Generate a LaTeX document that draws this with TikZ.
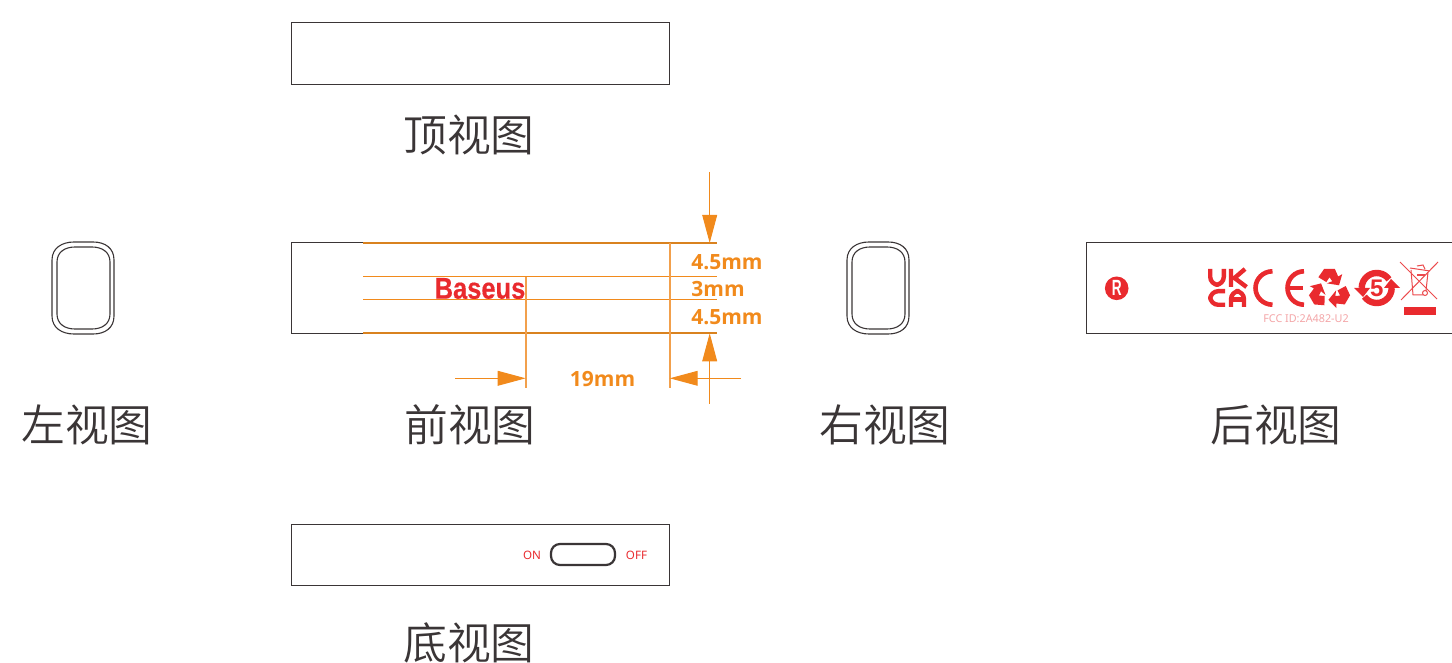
\documentclass[tikz,border=0pt]{standalone}
\usepackage{fontspec}
\usetikzlibrary{arrows.meta}
\newfontfamily\cjkfont{Noto Sans CJK SC DemiLight}
\newfontfamily\dimfont{Noto Sans}
\newfontfamily\dimboldfont{Open Sans}
\newfontfamily\logofont{Liberation Sans}
\definecolor{ink}{HTML}{3A3536}
\definecolor{dimc}{HTML}{F18A1C}
\definecolor{dimdark}{HTML}{D9821F}
\definecolor{dimlight}{HTML}{F2A04C}
\definecolor{brand}{HTML}{E92A2E}
\definecolor{fccpink}{HTML}{F4A6A8}
\tikzset{
  viewbox/.style={draw=ink,line width=0.45pt,fill=white},
  viewlabel/.style={font=\cjkfont\fontsize{21.9}{24}\selectfont,text=ink,inner sep=0pt},
  dimlabel/.style={font=\dimboldfont\bfseries\fontsize{10.5}{12}\selectfont,text=dimc,inner sep=0pt},
  redlabel/.style={font=\dimfont\fontsize{5.8}{6}\selectfont,text=brand,inner sep=0pt},
  dimline/.style={draw=dimc,line width=0.45pt},
  edgeline/.style={draw=dimdark,line width=0.75pt},
  thinline/.style={draw=dimlight,line width=0.9pt},
  dimarrow/.style={draw=dimc,line width=0.5pt,-{Triangle[length=14pt,width=7.4pt,fill=dimc]}},
  shell/.style={draw=ink,line width=0.55pt},
  iconline/.style={draw=brand!85,line width=0.5pt},
  ukca/.style={draw=brand,line width=2.2pt,line join=round},
  ce/.style={draw=brand,line width=2.3pt,line cap=butt},
}
\newcommand{\sideview}[1]{%
  \begin{scope}[shift={(#1,0)}]
    \draw[shell] (0,260) .. controls (0,248) and (10,242) .. (22,242) -- (41,242)
      .. controls (53,242) and (62,248) .. (62,260) -- (62,316)
      .. controls (62,328) and (53,334) .. (41,334) -- (22,334)
      .. controls (10,334) and (0,328) .. (0,316) -- cycle;
    \draw[shell] (5,262) .. controls (5,252) and (13,247) .. (23,247) -- (40,247)
      .. controls (50,247) and (58,252) .. (58,262) -- (58,314)
      .. controls (58,324) and (50,329) .. (40,329) -- (23,329)
      .. controls (13,329) and (5,324) .. (5,314) -- cycle;
  \end{scope}}
\newcommand{\recyclearm}[1]{%
  \begin{scope}[shift={(1329.5,289.5)},rotate=#1,scale=1.06]
    \fill[brand] (-10.5,-11.6) -- (-5,-19.5) -- (5,-19.5) -- (8.2,-12.2) -- (12,-14.5) -- (9,-4) -- (-2.5,-5.8) -- (2.6,-7.8) -- (0,-11.5) -- (-3,-7) -- cycle;
  \end{scope}}
\begin{document}
\begin{tikzpicture}[x=0.5pt,y=-0.5pt]
\useasboundingbox (0,0) rectangle (1452,663);
% top
\node[viewbox,minimum width=189pt,minimum height=31pt,inner sep=0pt] (top) at (480.7,53) {};
\node[viewlabel] (toplabel) at (469,135) {顶视图};
% left
\sideview{52}
\node[viewlabel] (leftlabel) at (87,425) {左视图};
% front
\node[viewbox,minimum width=189pt,minimum height=45.2pt,inner sep=0pt] (front) at (480.7,288) {};
\node[viewlabel] (frontlabel) at (470,425) {前视图};
\node[inner sep=0pt,text=brand,font=\logofont\bfseries\addfontfeature{FakeBold=0.4}\fontsize{15}{16}\selectfont,xscale=0.85] (logo) at (480,288.5) {Baseus};
% dimension frame
\coordinate (a1) at (363,242.8); \coordinate (a2) at (717,242.8);
\coordinate (b1) at (363,276.7); \coordinate (b2) at (717,276.7);
\coordinate (c1) at (363,299.3); \coordinate (c2) at (717,299.3);
\coordinate (d1) at (363,333.2); \coordinate (d2) at (717,333.2);
\draw[edgeline] (a1) -- (a2);
\draw[dimline] (b1) -- (b2);
\draw[dimline] (c1) -- (c2);
\draw[edgeline] (d1) -- (d2);
\coordinate (v1a) at (525.7,277); \coordinate (v1b) at (525.7,388);
\coordinate (v2a) at (669.7,243); \coordinate (v2b) at (669.7,388);
\draw[thinline] (v1a) -- (v1b);
\draw[thinline] (v2a) -- (v2b);
\coordinate (t1) at (709.7,172); \coordinate (t2) at (709.7,243);
\coordinate (u1) at (709.7,404); \coordinate (u2) at (709.7,333.3);
\coordinate (l1) at (455,378.3); \coordinate (l2) at (525.7,378.3);
\coordinate (r1) at (741,378.3); \coordinate (r2) at (669.7,378.3);
\draw[dimarrow] (t1) -- (t2);
\draw[dimarrow] (u1) -- (u2);
\draw[dimarrow] (l1) -- (l2);
\draw[dimarrow] (r1) -- (r2);
\node[dimlabel] (d45a) at (727,262) {4.5mm};
\node[dimlabel] (d3) at (718,289) {3mm};
\node[dimlabel] (d45b) at (727,317) {4.5mm};
\node[dimlabel] (d19) at (602.5,379) {19mm};
% right
\sideview{847}
\node[viewlabel] (rightlabel) at (885,425) {右视图};
% back
\draw[viewbox] (1086.7,242.8) -- (1453,242.8) -- (1453,333.2) -- (1086.7,333.2) -- cycle;
\node[viewlabel] (backlabel) at (1276,425) {后视图};
\node[circle,fill=brand,minimum size=11.8pt,inner sep=0pt,text=white,font=\logofont\bfseries\fontsize{11}{11}\selectfont] (rmark) at (1116.7,288.3) {\scalebox{0.62}[1]{R}};
% UKCA
\draw[ukca,rounded corners=4] (1210.2,269) -- (1210.2,284.8) -- (1223.8,284.8) -- (1223.8,269);
\draw[ukca] (1231,269) -- (1231,287) (1245,269) -- (1234.5,278) -- (1246.5,287);
\draw[ukca,rounded corners=4] (1225,291.2) -- (1210.2,291.2) -- (1210.2,304.8) -- (1225,304.8);
\draw[ukca,rounded corners=4] (1231,307) -- (1231,291.2) -- (1244,291.2) -- (1244,307);
\draw[ukca] (1231,299.5) -- (1244,299.5);
% CE
\draw[ce] (1272.5,304.7) arc[start angle=90,end angle=270,x radius=17,y radius=16.7];
\draw[ce] (1304,304.7) arc[start angle=90,end angle=270,x radius=16.5,y radius=16.7];
\draw[brand,line width=2.2pt] (1288,288) -- (1303,288);
% recycling
\recyclearm{0}
\recyclearm{120}
\recyclearm{240}
% 5 mark
\draw[brand,line width=3.2pt] (1376.7,288) ++(-35:15) arc[start angle=-35,end angle=-180,radius=15];
\draw[brand,line width=3.2pt] (1376.7,288) ++(145:15) arc[start angle=145,end angle=0,radius=15];
\fill[brand] (1354,288) -- (1370,288) -- (1363,297) -- cycle;
\fill[brand] (1384,288) -- (1400,288) -- (1391,279) -- cycle;
\node[inner sep=0pt,text=brand,font=\logofont\bfseries\fontsize{12}{12}\selectfont] (five) at (1376.7,288) {5};
% bin
\draw[iconline] (1400,262) -- (1437,299);
\draw[iconline] (1438,262) -- (1401,300);
\draw[iconline] (1410,268) -- (1430,271) (1417,266) -- (1423,265) -- (1425,269);
\draw[iconline] (1411,270) -- (1413,295) -- (1423,295) (1428,272) -- (1426,291);
\fill[brand!85] (1417,274) rectangle (1425,276);
\draw[iconline] (1425,293) circle[radius=2.5];
\fill[brand] (1404,307) rectangle (1436,315);
\node[inner sep=0pt,text=fccpink,font=\dimfont\fontsize{5.4}{6}\selectfont] (fcc) at (1306,319) {FCC ID:2A482-U2};
% bottom
\node[viewbox,minimum width=189pt,minimum height=30.5pt,inner sep=0pt] (bottom) at (480.7,554.5) {};
\node[viewlabel] (bottomlabel) at (469,643) {底视图};
\node[draw=ink,line width=1.1pt,rounded corners=4.5pt,minimum width=32pt,minimum height=10.5pt,inner sep=0pt] (switch) at (583,554.5) {};
\node[redlabel] (on) at (532,555) {ON};
\node[redlabel] (off) at (636.5,555) {OFF};
\end{tikzpicture}
\end{document}
